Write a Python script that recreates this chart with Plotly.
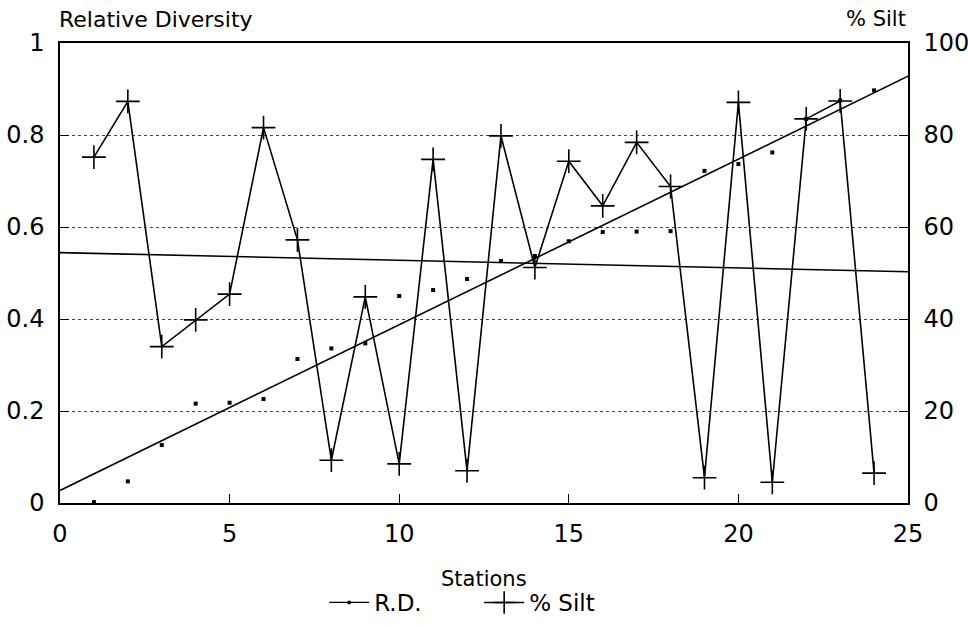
import numpy as np
import plotly.graph_objects as go

stations = list(range(1, 25))
rel_diversity = [0.002, 0.047, 0.126, 0.216, 0.218, 0.226, 0.313, 0.336, 0.347, 0.450,
                 0.463, 0.487, 0.526, 0.537, 0.569, 0.589, 0.590, 0.591, 0.722, 0.737,
                 0.762, 0.835, 0.875, 0.897]
pct_silt = [75.2, 87.3, 34.0, 39.8, 45.4, 81.6, 57.2, 9.3, 44.8, 8.5,
            74.7, 7.0, 79.8, 51.2, 74.3, 64.6, 78.4, 68.8, 5.5, 87.1,
            4.5, 83.5, 87.4, 6.5]
x_ticks = [0, 5, 10, 15, 20, 25]
y1_ticks = [0, 0.2, 0.4, 0.6, 0.8, 1]
y2_ticks = [0, 20, 40, 60, 80, 100]

FONT = "DejaVu Sans"

# linear trend lines
trend_x = np.array([0, 25])
c1 = np.polyfit(stations, rel_diversity, 1)
c2 = np.polyfit(stations, pct_silt, 1)

fig = go.Figure()

fig.add_trace(go.Scatter(x=trend_x, y=np.polyval(c1, trend_x), mode="lines",
                         line=dict(color="black", width=1.6), showlegend=False,
                         hoverinfo="skip"))
fig.add_trace(go.Scatter(x=trend_x, y=np.polyval(c2, trend_x), mode="lines",
                         line=dict(color="black", width=1.6), showlegend=False,
                         yaxis="y2", hoverinfo="skip"))

fig.add_trace(go.Scatter(x=stations, y=rel_diversity, mode="markers", name="R.D.",
                         marker=dict(symbol="square", size=4, color="black"),
                         showlegend=False, legendgroup="rd"))
# legend entry for R.D. (line with dot symbol)
fig.add_trace(go.Scatter(x=[None], y=[None], mode="lines+markers", name="R.D.",
                         line=dict(color="black", width=1.2),
                         marker=dict(symbol="circle", size=4, color="black"),
                         legendgroup="rd"))

fig.add_trace(go.Scatter(x=stations, y=pct_silt, mode="lines+markers", name="% Silt",
                         yaxis="y2",
                         line=dict(color="black", width=1.6),
                         marker=dict(symbol="cross-thin", size=17,
                                     line=dict(width=1.6, color="black"))))

fig.update_layout(
    width=968, height=625,
    margin=dict(l=60, r=60, t=43, b=122),
    paper_bgcolor="white", plot_bgcolor="white",
    font=dict(family=FONT, color="black", size=22),
    xaxis=dict(range=[0, 25], tickvals=x_ticks, ticks="inside", ticklen=9,
               tickcolor="black", showline=True, linecolor="black", linewidth=1.5,
               mirror=True, showgrid=False, zeroline=False, automargin=False,
               tickfont=dict(size=24), ticklabelstandoff=8),
    yaxis=dict(range=[0, 1], tickvals=y1_ticks, ticks="inside", ticklen=9,
               tickcolor="black", showline=True, linecolor="black", linewidth=1.5,
               mirror=True, showgrid=True, gridcolor="#444", griddash="dot",
               gridwidth=1, zeroline=False, tickfont=dict(size=24),
               ticklabelstandoff=9, automargin=False),
    yaxis2=dict(range=[0, 100], tickvals=y2_ticks, ticks="inside", ticklen=9,
                tickcolor="black", overlaying="y", side="right", showline=True,
                linecolor="black", linewidth=1.5, showgrid=False, zeroline=False,
                tickfont=dict(size=24), ticklabelstandoff=9, automargin=False),
    legend=dict(orientation="h", xref="container", yref="container",
                x=0.495, xanchor="center", y=0.036, yanchor="middle",
                font=dict(size=23), itemwidth=40,
                entrywidth=100, bgcolor="rgba(0,0,0,0)"),
    annotations=[
        dict(text="Relative Diversity", xref="paper", yref="paper",
             x=-0.004, y=1.052, xanchor="left", yanchor="middle",
             showarrow=False, font=dict(size=22)),
        dict(text="% Silt", xref="paper", yref="paper",
             x=1.0, y=1.052, xanchor="right", yanchor="middle",
             showarrow=False, font=dict(size=21)),
        dict(text="Stations", xref="paper", yref="paper",
             x=0.5, y=-0.165, xanchor="center", yanchor="middle",
             showarrow=False, font=dict(size=21)),
    ],
)

fig.write_html("out.html")
